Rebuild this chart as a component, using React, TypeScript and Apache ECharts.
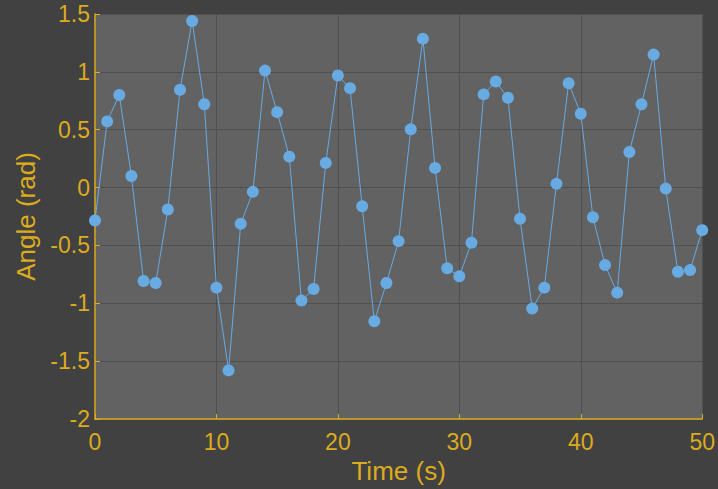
import React, { useEffect, useRef } from "react";
import * as echarts from "echarts";

const times: number[] = Array.from({ length: 51 }, (_, i) => i);
const angles: number[] = [
  -0.284, 0.572, 0.8, 0.1, -0.807, -0.825, -0.19, 0.845, 1.44, 0.72,
  -0.865, -1.58, -0.313, -0.037, 1.011, 0.652, 0.267, -0.977, -0.877, 0.213,
  0.968, 0.859, -0.161, -1.155, -0.825, -0.463, 0.503, 1.287, 0.17, -0.698,
  -0.767, -0.477, 0.805, 0.917, 0.776, -0.27, -1.046, -0.865, 0.032, 0.902,
  0.638, -0.256, -0.67, -0.908, 0.307, 0.72, 1.149, -0.009, -0.727, -0.713,
  -0.368,
];
const xTitle = "Time (s)";
const yTitle = "Angle (rad)";

const YELLOW = "#dcab1e";
const FONT = "Liberation Sans";

export default function App() {
  const ref = useRef<HTMLDivElement>(null);
  useEffect(() => {
    if (!ref.current) return;
    const chart = echarts.init(ref.current, undefined, { renderer: "svg" });
    chart.setOption({
      animation: false,
      backgroundColor: "#414141",
      grid: {
        left: 95,
        top: 14,
        width: 608,
        height: 406,
        show: true,
        backgroundColor: "#626262",
        borderWidth: 0,
      },
      xAxis: {
        type: "value",
        min: 0,
        max: 50,
        interval: 10,
        name: xTitle,
        nameLocation: "middle",
        nameGap: 39,
        nameTextStyle: { color: YELLOW, fontSize: 26, fontFamily: FONT },
        axisLine: { show: true, onZero: false, lineStyle: { color: YELLOW, width: 1.5 } },
        axisTick: { show: true, inside: true, length: 5, lineStyle: { color: YELLOW } },
        axisLabel: { color: YELLOW, fontSize: 23, fontFamily: FONT, margin: 11 },
        splitLine: { show: true, lineStyle: { color: "#505050", width: 1 } },
      },
      yAxis: {
        type: "value",
        min: -2,
        max: 1.5,
        interval: 0.5,
        name: yTitle,
        nameLocation: "middle",
        nameGap: 56,
        nameTextStyle: { color: YELLOW, fontSize: 26, fontFamily: FONT },
        axisLine: { show: true, onZero: false, lineStyle: { color: YELLOW, width: 1.5 } },
        axisTick: { show: true, inside: true, length: 5, lineStyle: { color: YELLOW } },
        axisLabel: { color: YELLOW, fontSize: 23, fontFamily: FONT, margin: 5 },
        splitLine: { show: true, lineStyle: { color: "#505050", width: 1 } },
      },
      series: [
        {
          type: "line",
          data: times.map((t, i) => [t, angles[i]]),
          symbol: "circle",
          symbolSize: 12,
          lineStyle: { color: "#68aae2", width: 1 },
          itemStyle: { color: "#68aae2" },
        },
      ],
    });
    return () => chart.dispose();
  }, []);
  return (
    <div
      ref={ref}
      style={{ position: "absolute", left: 0, top: 0, width: 718, height: 489 }}
    />
  );
}
